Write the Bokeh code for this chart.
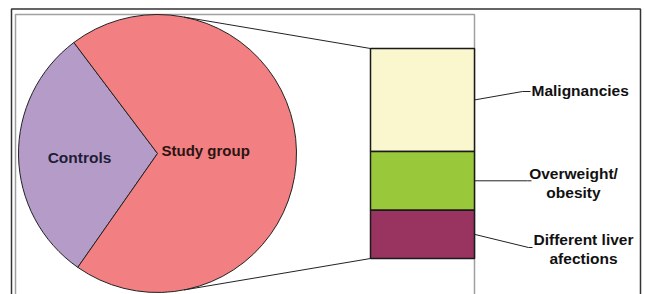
import numpy as np
from bokeh.plotting import figure
from bokeh.models import Range1d
from bokeh.core.properties import value
from bokeh.embed import file_html
from bokeh.resources import INLINE

# ---------------- data ----------------
pie_labels = ["Controls", "Study group"]
pie_values = [30, 70]
pie_colors = ["#B59BC8", "#F27F81"]

bar_labels = ["Malignancies", "Overweight/\nobesity", "Different liver\nafections"]
bar_values = [49, 28, 23]          # share of the study group (%)
bar_colors = ["#FAF6CE", "#99C93B", "#993360"]

# ---------------- layout (page pixels) ----------------
W, H = 645, 294
def Y(y):               # page-pixel y -> data y (upwards)
    return H - y

FONT = value("Liberation Sans")

p = figure(width=W, height=H, output_backend="svg", toolbar_location=None,
           x_range=Range1d(0, W), y_range=Range1d(0, H),
           x_axis_location=None, y_axis_location=None, min_border=0,
           background_fill_color="white", border_fill_color="white")
p.outline_line_color = None
p.grid.visible = False

# outer frame and plot-area frame
p.line([11, 11, 640, 640], [Y(300), Y(8.5), Y(8.5), Y(300)],
       line_color="#333333", line_width=1.5)
p.line([15, 15, 474, 474], [Y(300), Y(14), Y(14), Y(300)],
       line_color="#A0A0A0", line_width=1.5)

# ---------------- pie ----------------
cx, cy, r = 157, Y(153), 139
vals = np.array(pie_values, dtype=float)
fr = vals / vals.sum()
rot = np.deg2rad(181)
span0 = fr[0] * 2 * np.pi
starts = [rot - span0 / 2, rot + span0 / 2]
ends = [rot + span0 / 2, rot - span0 / 2 + 2 * np.pi]
p.wedge(x=cx, y=cy, radius=r, start_angle=starts, end_angle=ends,
        fill_color=pie_colors, line_color="#222222", line_width=1)

# pie labels
p.text(x=[79], y=[Y(157)], text=[pie_labels[0]], text_font=FONT,
       text_font_style="bold", text_font_size="15.5px", text_align="center",
       text_baseline="middle", text_color="#1E1E36")
p.text(x=[161], y=[Y(150)], text=[pie_labels[1]], text_font=FONT,
       text_font_style="bold", text_font_size="15px", text_align="left",
       text_baseline="middle", text_color="#2A1414")

# ---------------- bar of pie ----------------
bx0, bx1 = 370, 474
btop, bbot = Y(48), Y(258)
bv = np.array(bar_values, dtype=float)
cum = np.concatenate([[0], np.cumsum(bv)]) / bv.sum()
tops = btop - cum[:-1] * (btop - bbot)
bots = btop - cum[1:] * (btop - bbot)

# connector lines from pie to bar
ca = np.deg2rad(79)
p.line([cx + r * np.cos(ca), bx0], [cy + r * np.sin(ca), btop],
       line_color="#222222", line_width=1)
p.line([cx + r * np.cos(-ca), bx0], [cy + r * np.sin(-ca), bbot],
       line_color="#222222", line_width=1)

p.quad(left=bx0, right=bx1, top=tops, bottom=bots, fill_color=bar_colors,
       line_color="#1A1A1A", line_width=1.5)

mids = (tops + bots) / 2

# leader lines (label anchor offsets, page px) and labels
leader_end = [(522, Y(91)), (527, mids[1]), (528, Y(247))]
text_x = [531, 573, 583]
text_align = ["left", "center", "center"]
text_cy = [Y(90), Y(182), Y(248)]
LINE_GAP = 19

for i, lab in enumerate(bar_labels):
    ex, ey = leader_end[i]
    xs = [bx1, ex]
    ys = [mids[i], ey]
    if text_align[i] == "left":
        xs.append(text_x[i] - 1)
        ys.append(ey)
    else:
        xs.append(ex + 4)
        ys.append(ey)
    p.line(xs, ys, line_color="#222222", line_width=1)
    lines = lab.split("\n")
    n = len(lines)
    for k, t in enumerate(lines):
        yy = text_cy[i] + ((n - 1) / 2 - k) * LINE_GAP
        p.text(x=[text_x[i]], y=[yy], text=[t], text_font=FONT,
               text_font_style="bold", text_font_size="15.5px",
               text_align=text_align[i], text_baseline="middle",
               text_color="#111111")

open("out.html", "w").write(file_html(p, INLINE))
